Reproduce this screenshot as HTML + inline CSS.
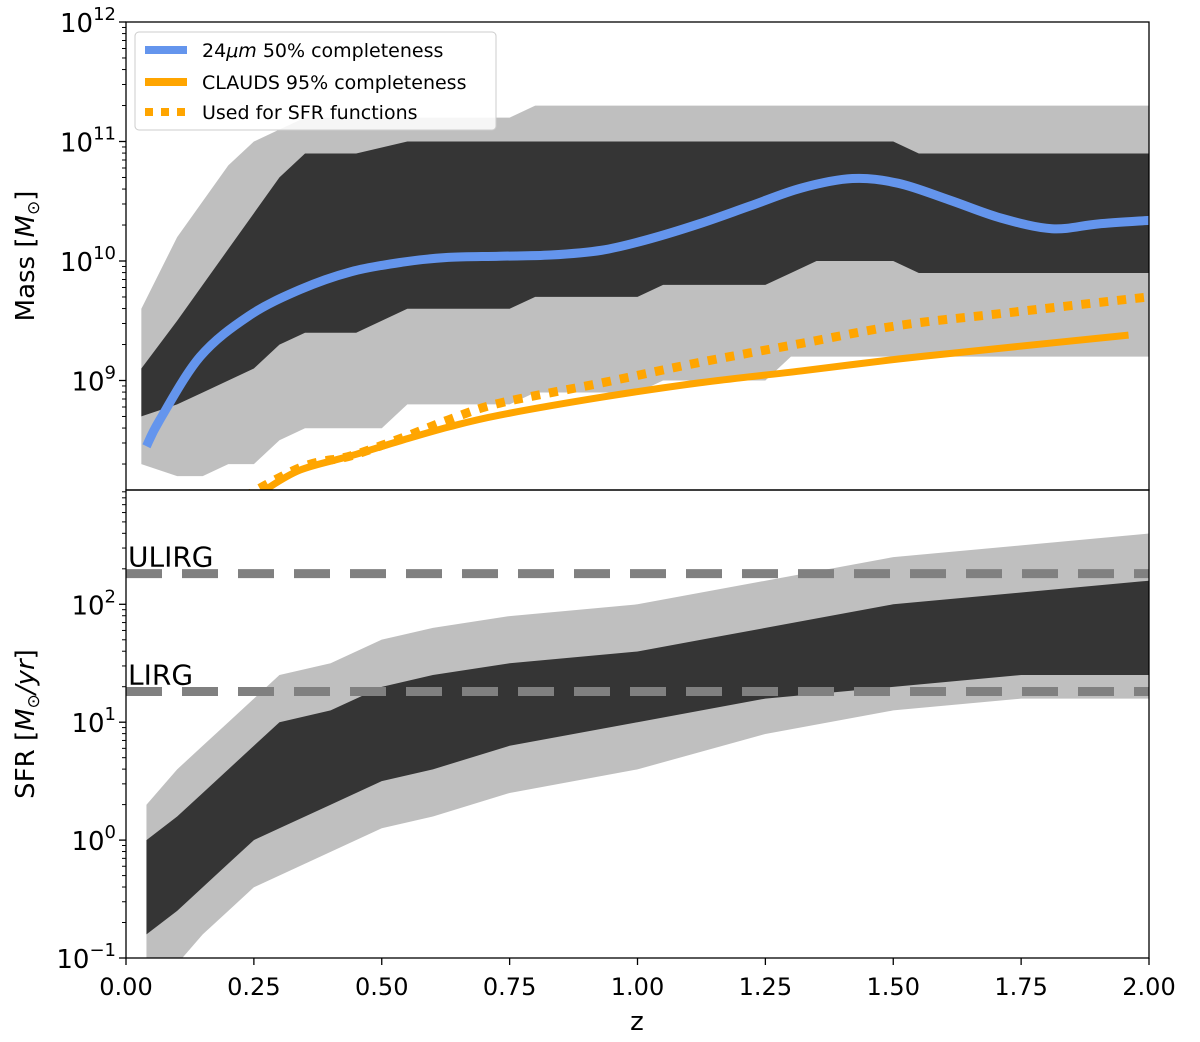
<!DOCTYPE html>
<html><head><meta charset="utf-8"><style>
body{margin:0;background:#fff;font-family:"DejaVu Sans","Liberation Sans",sans-serif}
svg text{font-family:"DejaVu Sans","Liberation Sans",sans-serif;fill:#000}
</style></head><body>
<svg id="chart" width="1200" height="1038" viewBox="0 0 1200 1038" xmlns="http://www.w3.org/2000/svg">
<defs>
<clipPath id="cTop"><rect x="126" y="22" width="1023" height="468"/></clipPath>
<clipPath id="cBot"><rect x="126" y="490" width="1023" height="468"/></clipPath>
</defs>
<g id="topMarks" clip-path="url(#cTop)"></g>
<g id="botMarks" clip-path="url(#cBot)"></g>
<g id="axes"></g>
<text transform="translate(34,256) rotate(-90)" font-size="26" text-anchor="middle">Mass [<tspan font-style="italic">M</tspan><tspan font-size="17" dy="5">⊙</tspan><tspan dy="-5">]</tspan></text>
<text transform="translate(34,724) rotate(-90)" font-size="26" text-anchor="middle">SFR [<tspan font-style="italic">M</tspan><tspan font-size="17" dy="5">⊙</tspan><tspan dy="-5" font-style="italic">/yr</tspan>]</text>
<text x="637" y="1030" font-size="26" text-anchor="middle">z</text>
<g><rect x="135" y="32" width="361" height="98" rx="4" fill="#fff" fill-opacity="0.85" stroke="#ccc"/>
<line x1="145" x2="187" y1="50" y2="50" stroke="#6495ed" stroke-width="8"/><text x="202" y="57" font-size="19">24<tspan font-style="italic">μm</tspan> 50% completeness</text>
<line x1="145" x2="187" y1="82" y2="82" stroke="#ffa500" stroke-width="8"/><text x="202" y="89" font-size="19">CLAUDS 95% completeness</text>
<line x1="145" x2="187" y1="112" y2="112" stroke="#ffa500" stroke-width="8" stroke-dasharray="8 8"/><text x="202" y="119" font-size="19">Used for SFR functions</text></g>
</svg>
<script>
const massZ   = [0.03,0.1,0.15,0.2,0.25,0.3,0.35,0.4,0.45,0.5,0.55,0.6,0.65,0.7,0.75,0.8,0.85,0.9,0.95,1.0,1.05,1.1,1.15,1.2,1.25,1.3,1.35,1.4,1.45,1.5,1.55,1.6,1.65,1.7,1.75,1.8,1.85,1.9,1.95,2.0];
const massOutLo = [8.3,8.2,8.2,8.3,8.3,8.5,8.6,8.6,8.6,8.6,8.8,8.8,8.8,8.8,8.8,8.9,8.9,8.9,8.9,8.9,9.0,9.0,9.0,9.0,9.0,9.2,9.2,9.2,9.2,9.2,9.2,9.2,9.2,9.2,9.2,9.2,9.2,9.2,9.2,9.2];
const massOutHi = [9.6,10.2,10.5,10.8,11.0,11.1,11.2,11.2,11.2,11.2,11.2,11.2,11.2,11.2,11.2,11.3,11.3,11.3,11.3,11.3,11.3,11.3,11.3,11.3,11.3,11.3,11.3,11.3,11.3,11.3,11.3,11.3,11.3,11.3,11.3,11.3,11.3,11.3,11.3,11.3];
const massCoreLo = [8.7,8.8,8.9,9.0,9.1,9.3,9.4,9.4,9.4,9.5,9.6,9.6,9.6,9.6,9.6,9.7,9.7,9.7,9.7,9.7,9.8,9.8,9.8,9.8,9.8,9.9,10.0,10.0,10.0,10.0,9.9,9.9,9.9,9.9,9.9,9.9,9.9,9.9,9.9,9.9];
const massCoreHi = [9.1,9.5,9.8,10.1,10.4,10.7,10.9,10.9,10.9,10.95,11.0,11.0,11.0,11.0,11.0,11.0,11.0,11.0,11.0,11.0,11.0,11.0,11.0,11.0,11.0,11.0,11.0,11.0,11.0,11.0,10.9,10.9,10.9,10.9,10.9,10.9,10.9,10.9,10.9,10.9];
const sfrZ = [0.04,0.1,0.15,0.2,0.25,0.3,0.4,0.5,0.6,0.75,1.0,1.25,1.5,1.75,2.0];
const sfrOutLo = [-1.1,-1.05,-0.8,-0.6,-0.4,-0.3,-0.1,0.1,0.2,0.4,0.6,0.9,1.1,1.2,1.2];
const sfrOutHi = [0.3,0.6,0.8,1.0,1.2,1.4,1.5,1.7,1.8,1.9,2.0,2.2,2.4,2.5,2.6];
const sfrCoreLo = [-0.8,-0.6,-0.4,-0.2,0,0.1,0.3,0.5,0.6,0.8,1.0,1.2,1.3,1.4,1.4];
const sfrCoreHi = [0,0.2,0.4,0.6,0.8,1.0,1.1,1.3,1.4,1.5,1.6,1.8,2.0,2.1,2.2];
const blueZ = [0.04,0.066,0.145,0.24,0.34,0.44,0.54,0.63,0.73,0.83,0.93,1.02,1.12,1.22,1.32,1.42,1.51,1.61,1.71,1.81,1.90,2.0];
const blueM = [8.45,8.67,9.2,9.54,9.76,9.91,9.99,10.03,10.04,10.05,10.09,10.18,10.31,10.46,10.61,10.69,10.65,10.51,10.36,10.27,10.31,10.34];
const orZ = [0.27,0.34,0.44,0.54,0.63,0.73,0.93,1.12,1.32,1.51,1.71,1.96];
const orM = [8.08,8.25,8.37,8.5,8.61,8.71,8.86,8.98,9.08,9.18,9.27,9.38];
const dotZ = [0.2,0.34,0.44,0.54,0.63,0.73,0.93,1.12,1.32,1.51,1.71,2.0];
const dotM = [7.95,8.27,8.37,8.52,8.67,8.81,8.98,9.15,9.31,9.46,9.56,9.7];
const refLabels = ["ULIRG","LIRG"];
const refValues = [2.26,1.26];
const xTicks = ["0.00","0.25","0.50","0.75","1.00","1.25","1.50","1.75","2.00"];
const massTicks = [9,10,11,12];
const sfrTicks = [-1,0,1,2];

const NS="http://www.w3.org/2000/svg";
const X0=126,X1=1149;
const xs=z=>X0+(X1-X0)*z/2;
const yTop=v=>22+(12-v)*119.5;
const yBot=v=>958-(v+1)*117.9;
function mk(tag,attrs,parent){const e=document.createElementNS(NS,tag);for(const k in attrs)e.setAttribute(k,attrs[k]);parent.appendChild(e);return e;}
const topG=document.getElementById('topMarks'),botG=document.getElementById('botMarks'),axG=document.getElementById('axes');

function smooth(pts){
  let d='M'+pts[0][0]+','+pts[0][1];
  for(let i=0;i<pts.length-1;i++){
    const p0=pts[Math.max(0,i-1)],p1=pts[i],p2=pts[i+1],p3=pts[Math.min(pts.length-1,i+2)];
    const c1=[p1[0]+(p2[0]-p0[0])/6,p1[1]+(p2[1]-p0[1])/6];
    const c2=[p2[0]-(p3[0]-p1[0])/6,p2[1]-(p3[1]-p1[1])/6];
    d+='C'+c1[0]+','+c1[1]+' '+c2[0]+','+c2[1]+' '+p2[0]+','+p2[1];
  }
  return d;
}
function band(zs,lo,hi,ys,g,op,name){
  let d='M'+xs(zs[0])+','+ys(hi[0]);
  for(let i=1;i<zs.length;i++)d+='L'+xs(zs[i])+','+ys(hi[i]);
  for(let i=zs.length-1;i>=0;i--)d+='L'+xs(zs[i])+','+ys(lo[i]);
  const p=mk('path',{d:d+'Z',fill:'#000',opacity:op,'stroke-linejoin':'round'},g);
  
  
}
band(massZ,massOutLo,massOutHi,yTop,topG,0.25,'mass-scatter-outer');
band(massZ,massCoreLo,massCoreHi,yTop,topG,0.72,'mass-scatter-core');
band(sfrZ,sfrOutLo,sfrOutHi,yBot,botG,0.25,'sfr-scatter-outer');
band(sfrZ,sfrCoreLo,sfrCoreHi,yBot,botG,0.72,'sfr-scatter-core');

function line(zs,vs,attrs,g,name){
  const p=mk('path',Object.assign({d:smooth(zs.map((z,i)=>[xs(z),yTop(vs[i])])),fill:'none','stroke-linejoin':'round'},attrs),g);
  
  
}
line(orZ,orM,{stroke:'#ffa500','stroke-width':7},topG,'clauds-95-line');
line(dotZ,dotM,{stroke:'#ffa500','stroke-width':9,'stroke-dasharray':'9 9'},topG,'sfr-used-dotted-line');
line(blueZ,blueM,{stroke:'#6495ed','stroke-width':9},topG,'24um-50-line');

refLabels.forEach((lab,i)=>{
  const y=yBot(refValues[i]);
  const l=mk('line',{x1:X0,x2:X1,y1:y,y2:y,stroke:'#808080','stroke-width':9,'stroke-dasharray':'36 20'},botG);
  
  
  const t=mk('text',{x:X0+2,y:y-7,'font-size':28},axG);
  t.textContent=lab;
  
  
});

mk('rect',{x:X0,y:22,width:X1-X0,height:468,fill:'none',stroke:'#000','stroke-width':1.3},axG);
mk('rect',{x:X0,y:490,width:X1-X0,height:468,fill:'none',stroke:'#000','stroke-width':1.3},axG);
xTicks.forEach((t,i)=>{const x=xs(i*0.25);
  mk('line',{x1:x,x2:x,y1:958,y2:965,stroke:'#000','stroke-width':1.3},axG);
  const e=mk('text',{x:x,y:995,'font-size':24,'text-anchor':'middle'},axG);
  e.textContent=t;
  
  
});
function yt(v,ys,lo,hi){
  const y=ys(v);
  mk('line',{x1:X0-7,x2:X0,y1:y,y2:y,stroke:'#000','stroke-width':1.3},axG);
  const e=mk('text',{x:X0-10,y:y+10,'font-size':26,'text-anchor':'end'},axG);
  e.textContent='10';
  const s=mk('tspan',{dy:-12,'font-size':18},e);
  s.textContent=(v<0?'\u2212'+(-v):String(v));
  
  
  for(let k=2;k<10;k++){const yv=ys(v+Math.log10(k));if(yv>lo&&yv<hi)mk('line',{x1:X0-4,x2:X0,y1:yv,y2:yv,stroke:'#000','stroke-width':1},axG);}
}
massTicks.forEach(v=>yt(v,yTop,22,490));
for(let k=2;k<10;k++){const yv=yTop(8+Math.log10(k));if(yv<490)mk('line',{x1:X0-4,x2:X0,y1:yv,y2:yv,stroke:'#000','stroke-width':1},axG);}
sfrTicks.forEach(v=>yt(v,yBot,490,958));
</script>
</body></html>
